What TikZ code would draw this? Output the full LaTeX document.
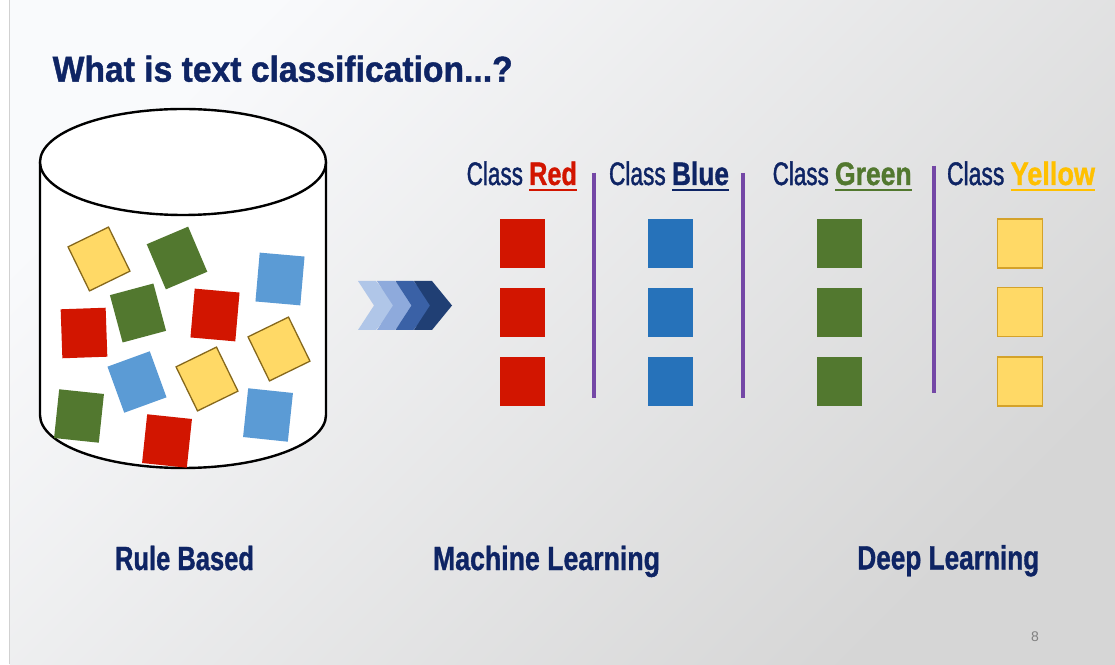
\documentclass[tikz,border=0pt]{standalone}
\usepackage{fontspec}
\usepackage{graphicx}
\newfontfamily\lsans{Liberation Sans}
\newfontfamily\lsansmed[FakeBold=1.6]{Liberation Sans}
\newfontfamily\lsansheavy[FakeBold=1.2]{Liberation Sans Bold}
\definecolor{navy}{HTML}{0E2464}
\definecolor{cred}{HTML}{D21500}
\definecolor{cgreen}{HTML}{52782F}
\definecolor{cyellowtxt}{HTML}{FFC000}
\definecolor{cblue}{HTML}{2672BA}
\definecolor{lblue}{HTML}{5B9BD5}
\definecolor{yfill}{HTML}{FFD966}
\definecolor{yedge}{HTML}{86681C}
\definecolor{yedgeb}{HTML}{D4A22A}
\definecolor{divc}{HTML}{7447A6}
\definecolor{chA}{HTML}{B0C6E8}
\definecolor{chB}{HTML}{8EAADC}
\definecolor{chC}{HTML}{3A61A6}
\definecolor{chD}{HTML}{203F74}
\definecolor{bgA}{HTML}{F9FAFC}
\definecolor{bgM}{HTML}{F2F3F5}
\definecolor{bgB}{HTML}{D6D6D6}
\newcommand\fitw[2]{\resizebox{#1}{\height}{#2}}
\newcommand\myul[1]{\setbox0=\hbox{#1}\rlap{\rule[-6pt]{\wd0}{2pt}}\box0}
\tikzset{
  txt/.style={anchor=base west, inner sep=0pt, outer sep=0pt},
  titlef/.style={txt, text=navy, font=\lsansheavy\fontsize{36}{40}\selectfont},
  classf/.style={txt, text=navy, font=\lsansmed\fontsize{32.5}{36}\selectfont},
  bottomf/.style={txt, text=navy, font=\lsansheavy\fontsize{33.5}{38}\selectfont},
  jsq/.style={rectangle, minimum width=45pt, minimum height=49pt, inner sep=0pt, outer sep=0pt},
  jred/.style={jsq, fill=cred},
  jgreen/.style={jsq, fill=cgreen},
  jblue/.style={jsq, fill=lblue},
  jyellow/.style={jsq, fill=yfill, draw=yedge, line width=1.3pt},
  rred/.style={jsq, fill=cred},
  rblue/.style={jsq, fill=cblue},
  rgreen/.style={jsq, fill=cgreen},
  ryellow/.style={jsq, fill=yfill, draw=yedgeb, line width=1.3pt},
  divider/.style={draw=divc, line width=4pt},
  cyl/.style={draw=black, line width=2.4pt, fill=white},
}
\begin{document}
\begin{tikzpicture}[x=1pt, y=1pt]
\useasboundingbox (0,0) rectangle (1115,664);
% background
\fill[white] (0,0) rectangle (1115,664);
\shade[top color=bgA, middle color=bgM, bottom color=bgB, shading angle=45] (9.5,0) rectangle (1115,664);
\draw[black!18, line width=0.8pt] (9.5,0) -- (9.5,664);

% title
\node[titlef] (title) at (52.7,582.3) {\fitw{460pt}{What is text classification...?}};

% cylinder
\path[cyl] (40,502) -- (40,249) arc[start angle=180, end angle=360, x radius=143, y radius=53] -- (326,502);
\draw[cyl] (183,502) ellipse [x radius=143, y radius=53];

% squares in the cylinder
\node[jyellow, rotate=26] (j1) at (99,405) {};
\node[jgreen, rotate=23] (j2) at (177,406) {};
\node[jblue, rotate=-5] (j3) at (280,385) {};
\node[jred, rotate=2] (j4) at (84,331) {};
\node[jgreen, rotate=15] (j5) at (138,351) {};
\node[jred, rotate=-5] (j6) at (215,349) {};
\node[jyellow, rotate=26] (j7) at (279,315) {};
\node[jblue, rotate=20] (j8) at (137,282) {};
\node[jyellow, rotate=26] (j9) at (207,285) {};
\node[jgreen, rotate=-6] (j10) at (79,248) {};
\node[jred, rotate=-6] (j11) at (167,223) {};
\node[jblue, rotate=-6] (j12) at (268,249) {};

% chevrons
\fill[chA] (358,383) -- (376,383) -- (396,358.5) -- (376,334) -- (358,334) -- (374,358.5) -- cycle;
\fill[chB] (377,383) -- (395,383) -- (415,358.5) -- (395,334) -- (377,334) -- (393,358.5) -- cycle;
\fill[chC] (395.5,383) -- (413.5,383) -- (433.5,358.5) -- (413.5,334) -- (395.5,334) -- (411.5,358.5) -- cycle;
\fill[chD] (414,383) -- (432,383) -- (452,358.5) -- (432,334) -- (414,334) -- (430,358.5) -- cycle;

% class labels
\node[classf] (cRed) at (466.7,479) {\fitw{62.5pt}{Class\ }\fitw{47.7pt}{\lsansheavy\color{cred}\myul{Red}}};
\node[classf] (cBlue) at (609,479) {\fitw{63pt}{Class\ }\fitw{57pt}{\lsansheavy\color{navy}\myul{Blue}}};
\node[classf] (cGreen) at (772.7,479) {\fitw{62.3pt}{Class\ }\fitw{76.7pt}{\lsansheavy\color{cgreen}\myul{Green}}};
\node[classf] (cYellow) at (947,479) {\fitw{63.7pt}{Class\ }\fitw{84.3pt}{\lsansheavy\color{cyellowtxt}\myul{Yellow}}};

% dividers
\draw[divider] (594,491.3) -- (594,266);
\draw[divider] (743,491) -- (743,266);
\draw[divider] (933.7,498.3) -- (933.7,271.3);

% sorted squares
\foreach \c/\s in {522.4/rred, 670.4/rblue, 839.4/rgreen, 1019.8/ryellow}{
  \node[\s] at (\c,420.4) {};
  \node[\s] at (\c,351.8) {};
  \node[\s] at (\c,282.5) {};
}

% bottom labels
\node[bottomf] (rule) at (115,94) {\fitw{139pt}{Rule Based}};
\node[bottomf] (ml) at (433,94) {\fitw{227pt}{Machine Learning}};
\node[bottomf] (dl) at (857.3,94.7) {\fitw{182pt}{Deep Learning}};

% page number
\node[inner sep=0pt, text=black!50, font=\lsans\fontsize{14}{14}\selectfont] (pnum) at (1035,27) {8};
\end{tikzpicture}
\end{document}
